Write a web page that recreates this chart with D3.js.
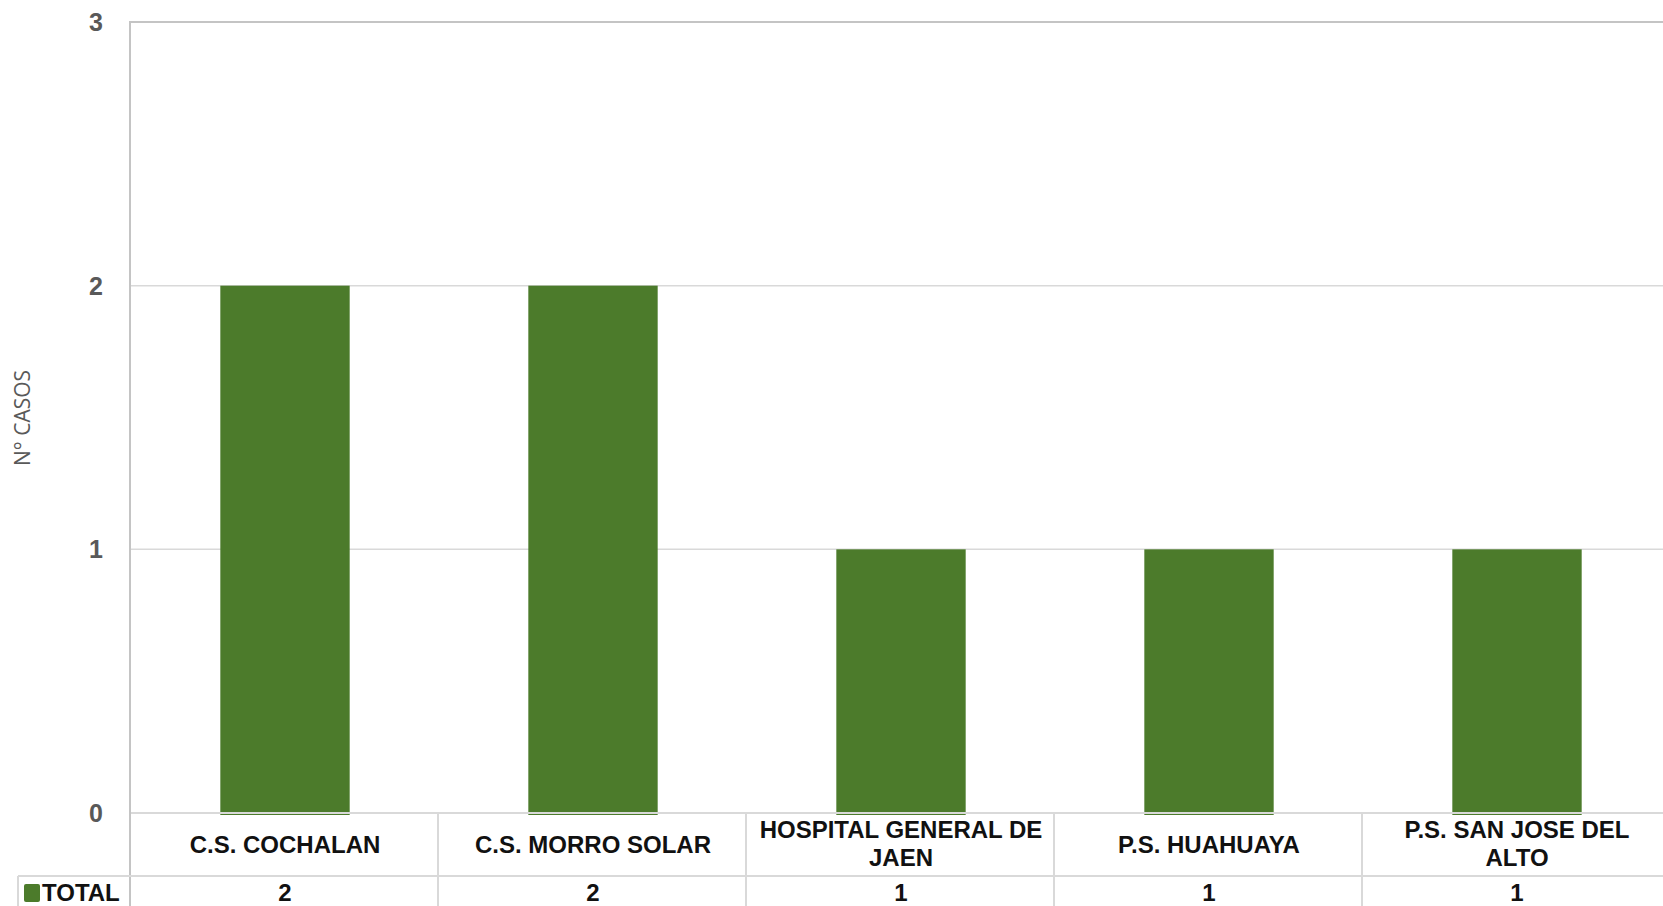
<!DOCTYPE html>
<html lang="es">
<head>
  <meta charset="UTF-8">
  <title>N° casos por establecimiento</title>
  <script src="https://d3js.org/d3.v7.min.js"></script>
  <style>
    body { margin: 0; background: #fff; }
    svg { display: block; font-family: "Liberation Sans", Arial, sans-serif; }
  </style>
</head>
<body>
  <div id="chart"></div>

  <script>
  // data
  const categories = [
    ["C.S. COCHALAN"],
    ["C.S. MORRO SOLAR"],
    ["HOSPITAL GENERAL DE", "JAEN"],
    ["P.S. HUAHUAYA"],
    ["P.S. SAN JOSE DEL", "ALTO"]
  ];
  const totals = [2, 2, 1, 1, 1];
  const yTicks = [0, 1, 2, 3];
  const seriesName = "TOTAL";

  const W = 1663, H = 906;
  const plotLeft = 130, plotTop = 22, plotBottom = 813, colW = 308;
  const rowY = 876;
  const green = "#4c7b2b", grid = "#d9d9d9";

  const svg = d3.select("#chart").append("svg")
    .attr("width", W).attr("height", H);

  const keys = categories.map(c => c.join(" "));
  const x = d3.scaleBand().domain(keys)
    .range([plotLeft, plotLeft + colW * keys.length]).padding(0);
  const y = d3.scaleLinear().domain([0, 3]).range([plotBottom, plotTop]);

  // gridlines
  svg.selectAll("line.grid")
    .data(yTicks)
    .enter().append("line")
    .attr("class", "grid")
    .attr("x1", plotLeft).attr("x2", W)
    .attr("y1", d => y(d)).attr("y2", d => y(d))
    .attr("stroke", d => d === 3 ? "#c4c4c4" : grid)
    .attr("stroke-width", d => d === 3 ? 2 : 1.5);

  // y tick labels
  svg.selectAll("text.ytick")
    .data(yTicks)
    .enter().append("text")
    .attr("class", "ytick")
    .attr("x", 103)
    .attr("y", d => y(d) + 9)
    .attr("text-anchor", "end")
    .attr("font-size", 25).attr("font-weight", "bold")
    .attr("fill", "#595959")
    .text(d => d);

  // y axis title
  svg.append("text")
    .attr("transform", "translate(30,418) rotate(-90)")
    .attr("text-anchor", "middle")
    .attr("font-family", "'Open Sans', sans-serif")
    .attr("font-size", 21)
    .attr("fill", "#595959")
    .text("N° CASOS");

  // bars
  const barW = x.bandwidth() * 0.42;
  svg.selectAll("rect.bar")
    .data(totals)
    .enter().append("rect")
    .attr("class", "bar")
    .attr("x", (d, i) => x(keys[i]) + (x.bandwidth() - barW) / 2 + 1)
    .attr("y", d => y(d))
    .attr("width", barW)
    .attr("height", d => y(0) - y(d) + 2)
    .attr("fill", green);

  // baseline drawn over bars
  svg.append("line")
    .attr("x1", plotLeft).attr("x2", W)
    .attr("y1", plotBottom).attr("y2", plotBottom)
    .attr("stroke", grid).attr("stroke-width", 2);

  // left axis line
  svg.append("line")
    .attr("x1", plotLeft).attr("x2", plotLeft)
    .attr("y1", plotTop - 1).attr("y2", H)
    .attr("stroke", "#c4c4c4").attr("stroke-width", 2);

  // data table lines
  svg.selectAll("line.col")
    .data(keys)
    .enter().append("line")
    .attr("class", "col")
    .attr("x1", (d, i) => plotLeft + colW * (i + 1))
    .attr("x2", (d, i) => plotLeft + colW * (i + 1))
    .attr("y1", plotBottom).attr("y2", H)
    .attr("stroke", grid).attr("stroke-width", 2);

  svg.append("line")
    .attr("x1", 18).attr("x2", W)
    .attr("y1", rowY).attr("y2", rowY)
    .attr("stroke", grid).attr("stroke-width", 2);
  svg.append("line")
    .attr("x1", 18).attr("x2", 18)
    .attr("y1", rowY).attr("y2", H)
    .attr("stroke", grid).attr("stroke-width", 2);

  // category labels
  const lab = svg.selectAll("text.cat")
    .data(categories)
    .enter().append("text")
    .attr("class", "cat")
    .attr("text-anchor", "middle")
    .attr("font-size", 24).attr("font-weight", "bold")
    .attr("fill", "#111");
  lab.each(function(d, i) {
    const cx = x(keys[i]) + x.bandwidth() / 2 + 1;
    const y0 = d.length === 1 ? 853 : 838;
    d3.select(this).selectAll("tspan")
      .data(d).enter().append("tspan")
      .attr("x", cx)
      .attr("y", (t, j) => y0 + j * 28)
      .text(t => t);
  });

  // table values
  svg.selectAll("text.val")
    .data(totals)
    .enter().append("text")
    .attr("class", "val")
    .attr("x", (d, i) => x(keys[i]) + x.bandwidth() / 2 + 1)
    .attr("y", 901)
    .attr("text-anchor", "middle")
    .attr("font-size", 24).attr("font-weight", "bold")
    .attr("fill", "#111")
    .text(d => d);

  // legend key
  svg.append("rect")
    .attr("x", 24).attr("y", 884)
    .attr("width", 16).attr("height", 18)
    .attr("rx", 2)
    .attr("fill", green);
  svg.append("text")
    .attr("x", 42).attr("y", 901)
    .attr("font-size", 24).attr("font-weight", "bold")
    .attr("fill", "#111")
    .text(seriesName);
  </script>
</body>
</html>
